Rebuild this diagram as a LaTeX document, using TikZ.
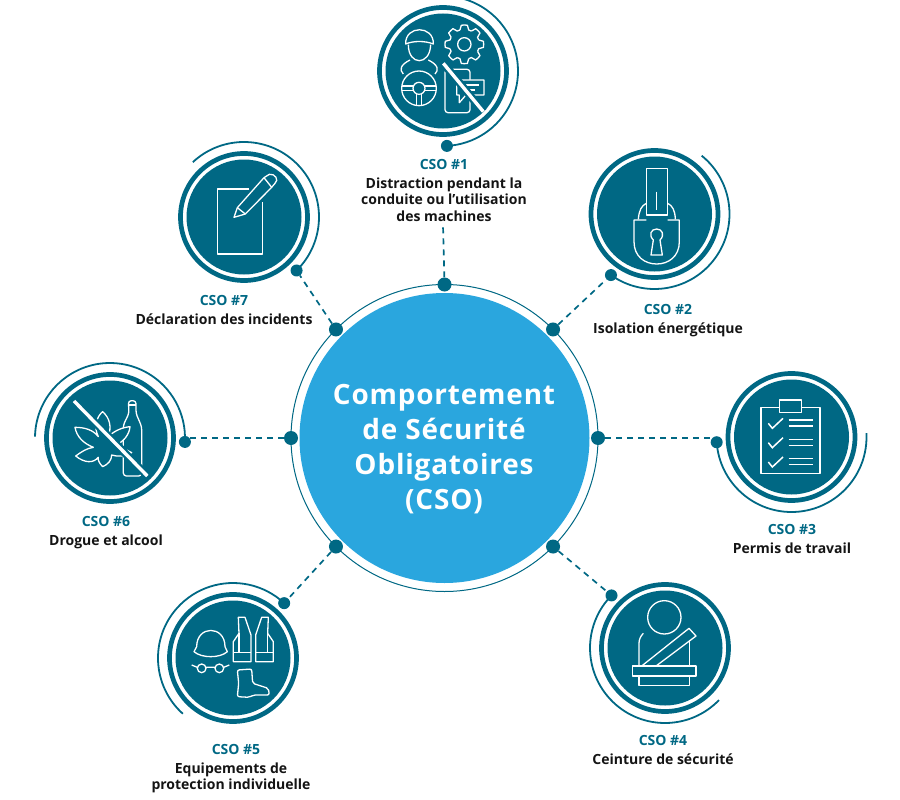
\documentclass[tikz,border=0pt]{standalone}
\usepackage{fontspec}
\setmainfont{Open Sans}
\newfontfamily\hubfont[LetterSpace=3]{Open Sans}
\usetikzlibrary{positioning, calc}
\definecolor{csoteal}{HTML}{006884}
\definecolor{csoblue}{HTML}{2AA6DE}
\definecolor{csotext}{HTML}{141414}
\begin{document}
\begin{tikzpicture}[x=1pt, y=-1pt, inner sep=0pt,
		hubstyle/.style={circle, fill=csoblue, minimum size=290pt},
		hubringstyle/.style={circle, draw=csoteal, line width=1pt, minimum size=307pt},
		hubtextstyle/.style={text=white, align=center, font=\hubfont\bfseries\fontsize{27.9}{35.2}\selectfont},
		ringstyle/.style={circle, draw=csoteal, line width=4.7pt, minimum size=127pt},
		discstyle/.style={circle, fill=csoteal, minimum size=115pt},
		arcstyle/.style={draw=csoteal, line width=1.8pt},
		dotstyle/.style={circle, fill=csoteal, minimum size=14pt},
		smalldotstyle/.style={circle, fill=csoteal, minimum size=12pt},
		linkstyle/.style={draw=csoteal, line width=1.7pt, dash pattern=on 6pt off 5pt},
		csostyle/.style={text=csoteal, font=\bfseries\fontsize{14}{16.5}\selectfont},
		namestyle/.style={text=csotext, align=center, font=\bfseries\fontsize{14}{16.5}\selectfont},
		iconstyle/.style={draw=white, line width=1.3pt, line join=round},
		tickstyle/.style={draw=white, line width=1.5pt},
		barstyle/.style={draw=csoteal, line width=8pt},
		slashstyle/.style={draw=white, line width=3.4pt}]

	\useasboundingbox (0,0) rectangle (900,800);

	\node [hubringstyle] (hubring) at (444.5,438) {};
	\node [hubstyle] (hub) at (444.5,438) {};
	\node [hubtextstyle] (hubtext) at (444,449) {Comportement\\de Sécurité\\Obligatoires\\(CSO)};

	\foreach \n/\cx/\cy/\from/\to/\dotangle in {
		1/443/71/-94/87/87,
		2/654.5/214/-51/125.5/125.5,
		3/791.5/437/-3/176/176,
		4/665/648/44/224.5/224.5,
		5/233/658/132/313/313,
		6/110/438/181/363/363,
		7/244/217/-133/45.5/45.5}
	{
		\node [ringstyle] (ring\n) at (\cx,\cy) {};
		\node [discstyle] (disc\n) at (\cx,\cy) {};
		\draw [arcstyle] (\cx,\cy) ++(\from:75) arc[start angle=\from, end angle=\to, radius=75];
		\node [smalldotstyle] (end\n) at ($(\cx,\cy)+(\dotangle:75)$) {};
	}

	\foreach \n/\angle in {1/-90, 2/-45, 3/0, 4/45, 5/135, 6/180, 7/225}
	{
		\node [dotstyle] (spot\n) at ($(hub.center)+(\angle:153.5)$) {};
	}

	\coordinate (free1) at (443,225);
	\draw [linkstyle] (spot1) -- (free1);
	\draw [linkstyle] (spot3) -- (spot3 -| end3);
	\draw [linkstyle] (spot6) -- (spot6 -| end6);
	\foreach \n in {2, 4, 5, 7}
	{
		\draw [linkstyle] (spot\n) -- (end\n);
	}

	\node [csostyle] (cso1) at (444,164) {CSO \#1};
	\node [namestyle, below=8pt of cso1] (name1) {Distraction pendant la\\conduite ou l’utilisation\\des machines};
	\node [csostyle] (cso2) at (668,309) {CSO \#2};
	\node [namestyle, below=8pt of cso2] (name2) {Isolation énergétique};
	\node [csostyle] (cso3) at (792,529) {CSO \#3};
	\node [namestyle, below=8pt of cso3] (name3) {Permis de travail};
	\node [csostyle] (cso4) at (663,740) {CSO \#4};
	\node [namestyle, below=8pt of cso4] (name4) {Ceinture de sécurité};
	\node [csostyle] (cso5) at (236,749) {CSO \#5};
	\node [namestyle, below=8pt of cso5, xshift=-5pt] (name5) {Equipements de\\protection individuelle};
	\node [csostyle] (cso6) at (106,521) {CSO \#6};
	\node [namestyle, below=8pt of cso6] (name6) {Drogue et alcool};
	\node [csostyle] (cso7) at (224,300) {CSO \#7};
	\node [namestyle, below=8pt of cso7] (name7) {Déclaration des incidents};

	\begin{scope}[shift={(360,0)}, scale=1/3]
		\draw [iconstyle] (137,132) .. controls (135,75) and (222,75) .. (220,132) .. controls (195,122) and (160,122) .. (137,132) -- cycle;
		\draw [iconstyle] (145,134) .. controls (145,198) and (210,198) .. (212,134);
		\draw [iconstyle] (150,180) .. controls (120,195) and (118,210) .. (130,222);
		\draw [iconstyle] (205,180) .. controls (235,195) and (237,210) .. (225,222);
		\draw [iconstyle] (177,265) circle (52);
		\draw [iconstyle] (177,265) circle (18);
		\draw [iconstyle] (125,258) -- (159,258) (195,258) -- (229,258) (125,272) -- (160,272) (194,272) -- (229,272);
		\draw [iconstyle] (170,283) -- (170,316) (184,283) -- (184,316);
		\draw [iconstyle] (313,133) circle (20);
		\begin{scope}[shift={(313,133)}]
			\foreach \a in {0, 45, ..., 315}
			{
				\draw [iconstyle] (\a-17:45) -- (\a-9:58) arc[start angle=\a-9, end angle=\a+9, radius=58] -- (\a+17:45) arc[start angle=\a+17, end angle=\a+28, radius=45];
			}
		\end{scope}
		\draw [iconstyle, rounded corners=3pt] (255,208) rectangle (330,338);
		\draw [iconstyle, fill=csoteal] (290,240) -- (372,240) -- (372,285) -- (318,285) -- (298,308) -- (298,285) -- (290,285) -- cycle;
		\draw [iconstyle] (305,255) -- (358,255) (305,270) -- (345,270);
		\draw [barstyle] (250,190) -- (370,335);
		\draw [slashstyle] (250,190) -- (370,335);
	\end{scope}

	\begin{scope}[shift={(570,140)}, scale=1/3]
		\draw [iconstyle] (229,85) rectangle (293,225);
		\draw [tickstyle] (259,155) -- (259,210);
		\draw [iconstyle] (205,238) .. controls (207,210) and (215,197) .. (229,190);
		\draw [iconstyle] (293,190) .. controls (307,197) and (315,210) .. (316,238);
		\draw [iconstyle] (229,240) -- (192,240) -- (192,305) .. controls (192,350) and (225,372) .. (260,372) .. controls (295,372) and (328,350) .. (328,305) -- (328,240) -- (293,240);
		\draw [iconstyle] (250,300) .. controls (235,285) and (243,267) .. (260,267) .. controls (277,267) and (285,285) .. (270,300) -- (277,345) -- (243,345) -- cycle;
	\end{scope}

	\begin{scope}[shift={(710,360)}, scale=1/3]
		\draw [iconstyle] (153,142) rectangle (330,340);
		\draw [iconstyle, fill=csoteal] (208,120) rectangle (274,158);
		\foreach \y in {0, 58, 116}
		{
			\draw [tickstyle] (175,190+\y) -- (187,205+\y) -- (219,175+\y);
			\draw [iconstyle] (236,180+\y) -- (308,180+\y) (236,198+\y) -- (308,198+\y);
		}
	\end{scope}

	\begin{scope}[shift={(570,580)}, scale=1/3]
		\draw [iconstyle] (283,112) circle (50);
		\draw [iconstyle] (207,258) -- (207,190) .. controls (207,178) and (212,168) .. (220,160);
		\draw [iconstyle] (358,258) -- (358,180);
		\draw [iconstyle] (215,258) -- (357,145) -- (378,168) -- (258,258);
		\draw [iconstyle] (187,258) rectangle (378,288);
		\draw [iconstyle] (207,288) -- (207,316) -- (358,316) -- (358,288);
	\end{scope}

	\begin{scope}[shift={(150,590)}, scale=1/3]
		\draw [iconstyle] (140,170) .. controls (140,105) and (225,105) .. (225,170) -- (232,185) .. controls (210,205) and (155,205) .. (132,185) -- cycle;
		\draw [iconstyle] (155,235) circle (13) (208,235) circle (13);
		\draw [iconstyle] (168,232) -- (195,232) (125,225) -- (142,232) (238,225) -- (221,232);
		\foreach \side in {1, -1}
		{
			\begin{scope}[shift={(310,0)}, xscale=\side]
				\draw [iconstyle] (-45,82) -- (-25,82) -- (-7,135) -- (-7,215) -- (-60,215) -- (-60,155) -- (-43,130) -- cycle;
				\draw [iconstyle] (-60,188) -- (-7,188) (-43,130) -- (-43,188);
			\end{scope}
		}
		\draw [iconstyle, rounded corners=2pt] (262,240) -- (305,237) -- (308,280) -- (355,295) -- (358,315) -- (310,315) -- (298,322) -- (262,320) -- (266,280) -- cycle;
	\end{scope}

	\begin{scope}[shift={(30,370)}, scale=1/3]
		\draw [iconstyle, rounded corners=3pt] (295,92) -- (318,92) -- (318,130) -- (335,170) -- (335,318) -- (280,318) -- (280,165) -- (297,130) -- cycle;
		\draw [iconstyle] (295,105) -- (318,105);
		\draw [iconstyle, fill=csoteal] (205,200) .. controls (190,170) and (200,140) .. (218,125) .. controls (240,145) and (245,170) .. (235,200) .. controls (255,180) and (280,172) .. (300,170) .. controls (298,195) and (280,215) .. (258,225) .. controls (275,232) and (290,240) .. (305,248) .. controls (290,258) and (265,262) .. (245,255) .. controls (245,270) and (235,283) .. (218,290) .. controls (208,280) and (203,270) .. (205,262) .. controls (190,280) and (165,280) .. (137,258) .. controls (155,245) and (170,235) .. (190,232) .. controls (160,220) and (140,200) .. (135,172) .. controls (165,172) and (190,180) .. (205,200) -- cycle;
		\draw [barstyle] (132,93) -- (352,318);
		\draw [slashstyle] (132,93) -- (352,318);
	\end{scope}

	\begin{scope}[shift={(160,130)}, scale=1/3]
		\draw [iconstyle] (268,177) -- (172,177) -- (172,372) -- (307,372) -- (307,215);
		\draw [iconstyle] (222,262) -- (232,233) -- (312,143) -- (328,133) .. controls (345,130) and (358,150) .. (345,160) -- (335,172) -- (256,252) -- cycle;
		\draw [iconstyle] (232,233) -- (256,252) (312,143) -- (335,172);
	\end{scope}

\end{tikzpicture}
\end{document}
